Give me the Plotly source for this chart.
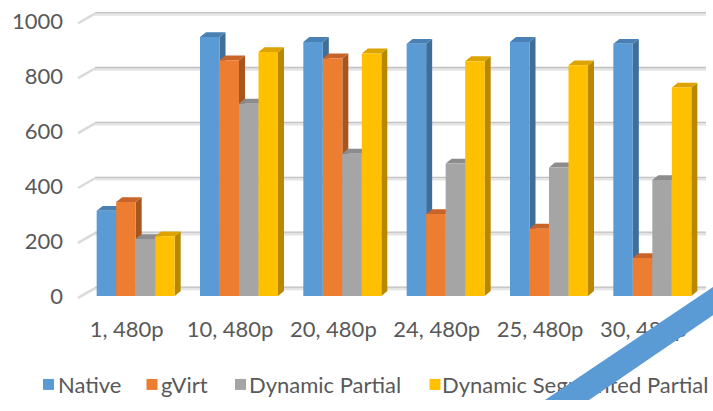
import plotly.graph_objects as go

# ---- data -------------------------------------------------------------
categories = ["1, 480p", "10, 480p", "20, 480p", "24, 480p", "25, 480p", "30, 480p"]
native = [310, 943, 925, 918, 925, 918]
gvirt = [342, 858, 865, 298, 245, 138]
dynamic_partial = [207, 700, 518, 482, 468, 422]
dynamic_seg_partial = [217, 888, 883, 855, 840, 759]

series_names = ["Native", "gVirt", "Dynamic Partial", "Dynamic Segmented Partial"]
series_values = [native, gvirt, dynamic_partial, dynamic_seg_partial]
y_ticks = [0, 200, 400, 600, 800, 1000]

# ---- styling ----------------------------------------------------------
W, H = 713, 411
FONT = "Lato"
TEXT = "#595959"
front_cols = ["#5B9BD5", "#ED7D31", "#A5A5A5", "#FFC000"]
top_cols = ["#4A80B3", "#C8642A", "#8C8C8C", "#DDA300"]
side_cols = ["#3F6E99", "#A9561E", "#777777", "#B88900"]

# plot area in pixels
PL, PR, PT, PB = 84, 704, 5, 306
Y0, Y1 = -7, 1060
ppu_y = (PB - PT) / (Y1 - Y0)          # pixels per value unit
ppu_x = (PR - PL) / 6.0                # pixels per category

# columns stand a little to the right of their floor labels (perspective)
SHIFT = 9 / ppu_x
X0, X1 = -0.5 + SHIFT, 5.5 + SHIFT

# 3-D extrusion of the columns
DX = 6 / ppu_x
DY = 5 / ppu_y
GRID_LIFT = 9 / ppu_y                  # back-wall gridlines sit above the front

BARGAP = 0.245
n_series = len(series_values)
bar_w = (1 - BARGAP) / n_series


def fx(px):
    return px / W


def fy(py):
    return 1 - py / H


def value_to_px(v):
    return PB - (v - Y0) * ppu_y


def bar_left(k):
    return SHIFT - (1 - BARGAP) / 2 + k * bar_w


fig = go.Figure()

# front faces of the columns
for k, (name, vals, col) in enumerate(zip(series_names, series_values, front_cols)):
    fig.add_trace(go.Bar(
        x=categories, y=vals, name=name,
        offset=bar_left(k), width=bar_w,
        marker=dict(color=col, line=dict(width=0)),
        showlegend=False, hoverinfo="x+y+name",
    ))

shapes = []

# back-wall gridlines
for v in y_ticks:
    yb = v + GRID_LIFT
    shapes.append(dict(type="line", xref="paper", yref="y", layer="below",
                       x0=fx(95), x1=fx(706), y0=yb - 1.5 / ppu_y, y1=yb - 1.5 / ppu_y,
                       line=dict(color="#E4E4E4", width=3.5)))
    shapes.append(dict(type="line", xref="paper", yref="y", layer="below",
                       x0=fx(95), x1=fx(706), y0=yb, y1=yb,
                       line=dict(color="#C2C2C2", width=1.3)))
    # short slanted strokes on the side wall
    pyb = value_to_px(v) - 9
    shapes.append(dict(type="line", xref="paper", yref="paper", layer="below",
                       x0=fx(78), y0=fy(pyb + 11), x1=fx(95), y1=fy(pyb + 1),
                       line=dict(color="#DADADA", width=2.5)))

# side and top faces of each column, painted left to right
for gi in range(len(categories)):
    for k in range(n_series):
        h = series_values[k][gi]
        xl = gi + bar_left(k)
        xr = xl + bar_w
        top = f"M{xl},{h} L{xr},{h} L{xr + DX},{h + DY} L{xl + DX},{h + DY} Z"
        side = f"M{xr},0 L{xr + DX},{DY} L{xr + DX},{h + DY} L{xr},{h} Z"
        shapes.append(dict(type="path", path=side, xref="x", yref="y", layer="below",
                           fillcolor=side_cols[k], line=dict(width=0)))
        shapes.append(dict(type="path", path=top, xref="x", yref="y", layer="below",
                           fillcolor=top_cols[k], line=dict(width=0)))

# legend drawn on a full-figure overlay axis pair
legend_square_x = [48.5, 152, 240.5, 435]
legend_text_x = [58, 161, 249, 442]
fig.add_trace(go.Scatter(
    x=legend_square_x, y=[395] * 4, mode="markers",
    marker=dict(symbol="square", size=11, color=front_cols, line=dict(width=0)),
    xaxis="x2", yaxis="y2", showlegend=False, hoverinfo="skip", cliponaxis=False,
))
fig.add_trace(go.Scatter(
    x=legend_text_x, y=[398] * 4, mode="text", text=series_names,
    textposition="middle right",
    textfont=dict(family=FONT, size=22, color=TEXT),
    xaxis="x2", yaxis="y2", showlegend=False, hoverinfo="skip", cliponaxis=False,
))

# diagonal ribbon across the lower-right corner
band = (f"M{fx(545)},{fy(411)} L{fx(713)},{fy(295)} "
        f"L{fx(713)},{fy(324)} L{fx(589)},{fy(411)} Z")
shapes.append(dict(type="path", path=band, xref="paper", yref="paper", layer="above",
                   fillcolor="#5B9BD5", line=dict(width=0)))

fig.update_layout(
    width=W, height=H,
    margin=dict(l=0, r=0, t=0, b=0),
    paper_bgcolor="white", plot_bgcolor="rgba(0,0,0,0)",
    barmode="overlay",
    shapes=shapes,
    showlegend=False,
    xaxis=dict(
        domain=[PL / W, PR / W], range=[X0, X1], type="category",
        showgrid=False, zeroline=False, showline=False, ticks="",
        tickfont=dict(family=FONT, size=22, color=TEXT),
        ticklabelstandoff=16, anchor="y",
    ),
    yaxis=dict(
        domain=[1 - PB / H, 1 - PT / H], range=[Y0, Y1],
        tickvals=y_ticks, showgrid=False, zeroline=False, showline=False, ticks="",
        tickfont=dict(family=FONT, size=22, color=TEXT),
        ticklabelstandoff=20, anchor="x",
    ),
    xaxis2=dict(domain=[0, 1], range=[0, W], visible=False, anchor="y2", fixedrange=True),
    yaxis2=dict(domain=[0, 1], range=[H, 0], visible=False, anchor="x2", fixedrange=True),
)

fig.write_html("out.html")
